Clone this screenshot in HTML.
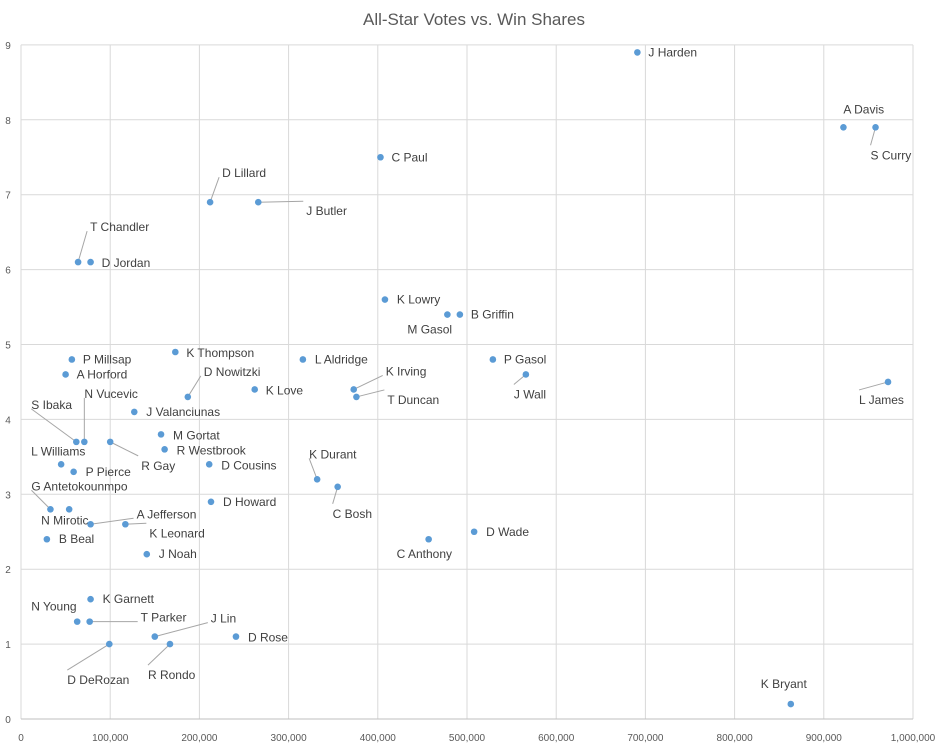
<!DOCTYPE html>
<html><head><meta charset="utf-8"><style>
body{margin:0;background:#fff;font-family:"Liberation Sans",sans-serif}
svg text{font-family:"Liberation Sans",sans-serif}
</style></head><body>
<svg id="c" width="948" height="748">
<text x="474" y="25" text-anchor="middle" font-size="17" fill="#595959">All-Star Votes vs. Win Shares</text>
<g id="grid"></g><g id="pts"></g>
</svg>
<script>
const names=["J Harden","A Davis","S Curry","C Paul","D Lillard","J Butler","T Chandler","D Jordan","K Lowry","M Gasol","B Griffin","P Millsap","K Thompson","L Aldridge","P Gasol","A Horford","J Wall","L James","K Irving","K Love","D Nowitzki","T Duncan","J Valanciunas","S Ibaka","N Vucevic","R Gay","M Gortat","R Westbrook","L Williams","D Cousins","P Pierce","K Durant","C Bosh","D Howard","G Antetokounmpo","N Mirotic","A Jefferson","K Leonard","D Wade","C Anthony","B Beal","J Noah","K Garnett","N Young","T Parker","J Lin","D Rose","D DeRozan","R Rondo","K Bryant"];
const votes=[691000,922000,958000,403000,212000,266000,64000,78000,408000,478000,492000,57000,173000,316000,529000,50000,566000,972000,373000,262000,187000,376000,127000,62000,71000,100000,157000,161000,45000,211000,59000,332000,355000,213000,33000,54000,78000,117000,508000,457000,29000,141000,78000,63000,77000,150000,241000,99000,167000,863000];
const winShares=[8.9,7.9,7.9,7.5,6.9,6.9,6.1,6.1,5.6,5.4,5.4,4.8,4.9,4.8,4.8,4.6,4.6,4.5,4.4,4.4,4.3,4.3,4.1,3.7,3.7,3.7,3.8,3.6,3.4,3.4,3.3,3.2,3.1,2.9,2.8,2.8,2.6,2.6,2.5,2.4,2.4,2.2,1.6,1.3,1.3,1.1,1.1,1.0,1.0,0.2];
const xTicks=[0,100000,200000,300000,400000,500000,600000,700000,800000,900000,1000000];
const yTicks=[0,1,2,3,4,5,6,7,8,9];
// label offsets [dx,dy,leader]
const off=[[11,0,0],[0,-18,0],[-5,28,1],[11,0,0],[12,-29,1],[48,9,1],[12,-35,1],[11,1,0],[12,0,0],[-40,15,0],[11,0,0],[11,0,0],[11,1,0],[12,0,0],[11,0,0],[11,0,0],[-12,20,1],[-29,18,1],[32,-18,1],[11,1,0],[16,-25,1],[31,3,1],[12,0,0],[-45,-37,1],[0,-48,1],[31,24,1],[12,1,0],[12,1,0],[-30,-13,0],[12,1,0],[12,0,0],[-8,-25,1],[-5,27,1],[12,0,0],[-19,-23,1],[-28,11,0],[46,-10,1],[24,9,1],[12,0,0],[-32,15,0],[12,0,0],[12,0,0],[12,0,0],[-46,-15,0],[51,-4,1],[56,-18,1],[12,1,0],[-42,36,1],[-22,31,1],[-30,-20,0]];
const X=v=>21+v/1000000*892, Y=v=>719-v*74.9;
const ns="http://www.w3.org/2000/svg";
const g=document.getElementById('grid'),p=document.getElementById('pts');
function mk(t,a,par){const e=document.createElementNS(ns,t);for(const k in a)e.setAttribute(k,a[k]);par.appendChild(e);return e;}
xTicks.forEach(v=>{
 const l=mk('line',{x1:X(v),x2:X(v),y1:Y(9),y2:Y(0),stroke:'#d9d9d9'},g);
 
 
 const t=mk('text',{x:X(v),y:741,'text-anchor':'middle','font-size':10,fill:'#595959'},g);
 t.textContent=v.toLocaleString('en-US');
 
 
});
yTicks.forEach(v=>{
 const l=mk('line',{x1:X(0),x2:X(1000000),y1:Y(v),y2:Y(v),stroke:v==0?'#bfbfbf':'#d9d9d9'},g);
 
 
 const t=mk('text',{x:8,y:Y(v)+4,'text-anchor':'middle','font-size':10,fill:'#595959'},g);
 t.textContent=v;
 
 
});
names.forEach((n,i)=>{
 const cx=X(votes[i]),cy=Y(winShares[i]),o=off[i];
 const lx=cx+o[0],ly=cy+o[1];
 if(o[2]){const ll=mk('line',{x1:cx,y1:cy,x2:lx-(o[0]>0?4:-4)*0+(o[0]>2?-3:0),y2:ly+(o[1]>0?-10:o[1]<0?4:0),stroke:'#a6a6a6'},p);
  
  }
 const c=mk('circle',{cx:cx,cy:cy,r:3.3,fill:'#5b9bd5'},p);
 
 
 const t=mk('text',{x:lx,y:ly+4,'font-size':12,fill:'#404040'},p);
 t.textContent=n;
 
 
});
</script>
</body></html>
